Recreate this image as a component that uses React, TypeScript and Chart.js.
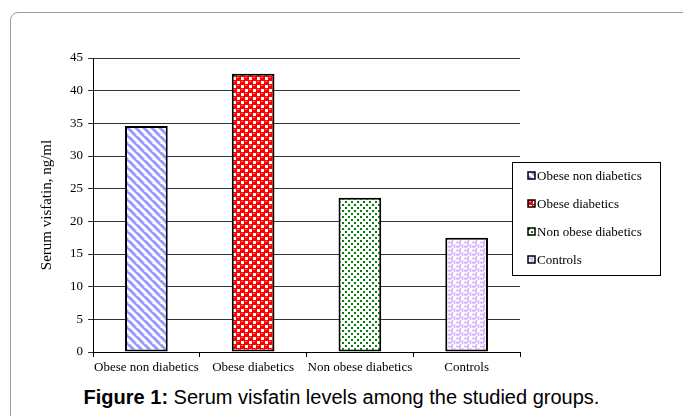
import React, { useEffect, useRef } from "react";
import { Chart, registerables } from "chart.js";

Chart.register(...registerables);

const categories = ["Obese non diabetics", "Obese diabetics", "Non obese diabetics", "Controls"];
const visfatinValues = [34.6, 42.6, 23.6, 17.5];
const yTicks = [0, 5, 10, 15, 20, 25, 30, 35, 40, 45];
const yTitle = "Serum visfatin, ng/ml";

const SERIF = "'Liberation Serif', 'Times New Roman', serif";

function makeTile(w: number, h: number, draw: (c: CanvasRenderingContext2D) => void) {
  const cv = document.createElement("canvas");
  cv.width = w;
  cv.height = h;
  const c = cv.getContext("2d")!;
  draw(c);
  return cv;
}

function makePatterns(ctx: CanvasRenderingContext2D) {
  const stripes = makeTile(8, 8, (c) => {
    c.fillStyle = "#ffffff";
    c.fillRect(0, 0, 8, 8);
    c.strokeStyle = "#9999ff";
    c.lineWidth = 3;
    for (let k = -8; k <= 16; k += 8) {
      c.beginPath();
      c.moveTo(k - 8, -8);
      c.lineTo(k + 8, 8);
      c.stroke();
    }
  });
  const balls = makeTile(8, 8, (c) => {
    c.fillStyle = "#ff0000";
    c.fillRect(0, 0, 8, 8);
    c.fillStyle = "#ffffff";
    c.fillRect(5, 1, 3, 3);
    c.fillRect(1, 5, 3, 3);
    c.fillStyle = "#ff8080";
    c.fillRect(1, 1, 2, 1);
    c.fillRect(5, 5, 2, 1);
  });
  const dots = makeTile(6, 6, (c) => {
    c.fillStyle = "#ffffff";
    c.fillRect(0, 0, 6, 6);
    c.fillStyle = "#008000";
    c.fillRect(0, 0, 2, 2);
    c.fillRect(3, 3, 2, 2);
  });
  const weave = makeTile(8, 8, (c) => {
    c.fillStyle = "#ffffff";
    c.fillRect(0, 0, 8, 8);
    c.strokeStyle = "#d2adff";
    c.lineWidth = 1.5;
    c.beginPath();
    c.moveTo(0, 2.5); c.lineTo(4, 2.5); c.lineTo(4, 6.5);
    c.moveTo(4.5, 0); c.lineTo(4.5, 2);
    c.moveTo(6.5, 4); c.lineTo(6.5, 8);
    c.moveTo(4, 6.5); c.lineTo(0, 6.5);
    c.moveTo(1.5, 6.5); c.lineTo(1.5, 8);
    c.stroke();
  });
  return [stripes, balls, dots, weave].map((t) => ctx.createPattern(t, "repeat") as CanvasPattern);
}

const legendPlugin = {
  id: "boxLegend",
  afterDraw(chart: any) {
    const { ctx, chartArea } = chart;
    const left = chartArea.right - 8;
    const top = 162;
    const w = 148;
    const h = 113;
    ctx.save();
    ctx.fillStyle = "#ffffff";
    ctx.fillRect(left, top, w, h);
    ctx.strokeStyle = "#000000";
    ctx.lineWidth = 1;
    ctx.strokeRect(left + 0.5, top + 0.5, w, h);
    const fills = chart.data.datasets[0].backgroundColor;
    ctx.font = "13px " + SERIF;
    ctx.textBaseline = "middle";
    categories.forEach((label, i) => {
      const y = top + 14 + i * 28;
      ctx.fillStyle = fills[i];
      ctx.fillRect(left + 16, y - 4, 7, 7);
      ctx.strokeStyle = "#000";
      ctx.lineWidth = 1.5;
      ctx.strokeRect(left + 16, y - 4, 7, 7);
      ctx.fillStyle = "#000";
      ctx.fillText(label, left + 25, y + 1);
    });
    ctx.restore();
  },
};

export default function App() {
  const ref = useRef<HTMLCanvasElement>(null);
  useEffect(() => {
    const canvas = ref.current!;
    const ctx = canvas.getContext("2d")!;
    const patterns = makePatterns(ctx);
    const font = { family: SERIF, size: 13 };
    const chart = new Chart(canvas, {
      type: "bar",
      data: {
        labels: categories,
        datasets: [
          {
            data: visfatinValues,
            backgroundColor: patterns as any,
            borderColor: "#000000",
            borderWidth: 2,
            borderSkipped: false,
            barPercentage: 0.4,
            categoryPercentage: 1,
          },
        ],
      },
      options: {
        animation: false,
        responsive: false,
        devicePixelRatio: 1,
        layout: { padding: { left: 30, top: 58, right: 163, bottom: 0 } },
        plugins: { legend: { display: false }, tooltip: { enabled: false } },
        scales: {
          x: {
            offset: true,
            afterFit: (axis: any) => {
              axis.height = 28;
            },
            grid: {
              display: true,
              offset: true,
              drawOnChartArea: false,
              drawTicks: true,
              tickLength: 5,
              color: "#000",
            },
            border: { color: "#000", width: 1 },
            ticks: { color: "#000", font, padding: 3, maxRotation: 0, minRotation: 0, autoSkip: false },
          },
          y: {
            min: 0,
            max: 45,
            afterFit: (axis: any) => {
              axis.width = 63;
            },
            afterBuildTicks: (axis: any) => {
              axis.ticks = yTicks.map((v) => ({ value: v }));
            },
            grid: { color: "#333", tickLength: 5, lineWidth: 1 },
            border: { color: "#000", width: 1 },
            ticks: { color: "#000", font, padding: 5 },
            title: {
              display: true,
              text: yTitle,
              color: "#000",
              font: { family: SERIF, size: 15 },
              padding: { top: 8, bottom: 0 },
            },
          },
        },
      },
      plugins: [legendPlugin],
    });
    return () => chart.destroy();
  }, []);

  return (
    <div style={{ position: "fixed", left: 0, top: 0, width: 683, height: 416, background: "#fff", overflow: "hidden" }}>
      <div
        style={{
          position: "absolute",
          left: 10,
          top: 12,
          width: 700,
          height: 420,
          border: "1px solid #9a9a9a",
          borderRadius: 8,
          boxSizing: "border-box",
        }}
      />
      <canvas ref={ref} width={683} height={380} style={{ position: "absolute", left: 0, top: 0 }} />
      <div
        style={{
          position: "absolute",
          left: 0,
          width: 683,
          top: 385,
          textAlign: "center",
          fontFamily: "'Liberation Sans', Arial, sans-serif",
          fontSize: 20,
          lineHeight: "24px",
          color: "#000",
        }}
      >
        <b>Figure 1:</b> Serum visfatin levels among the studied groups.
      </div>
    </div>
  );
}
